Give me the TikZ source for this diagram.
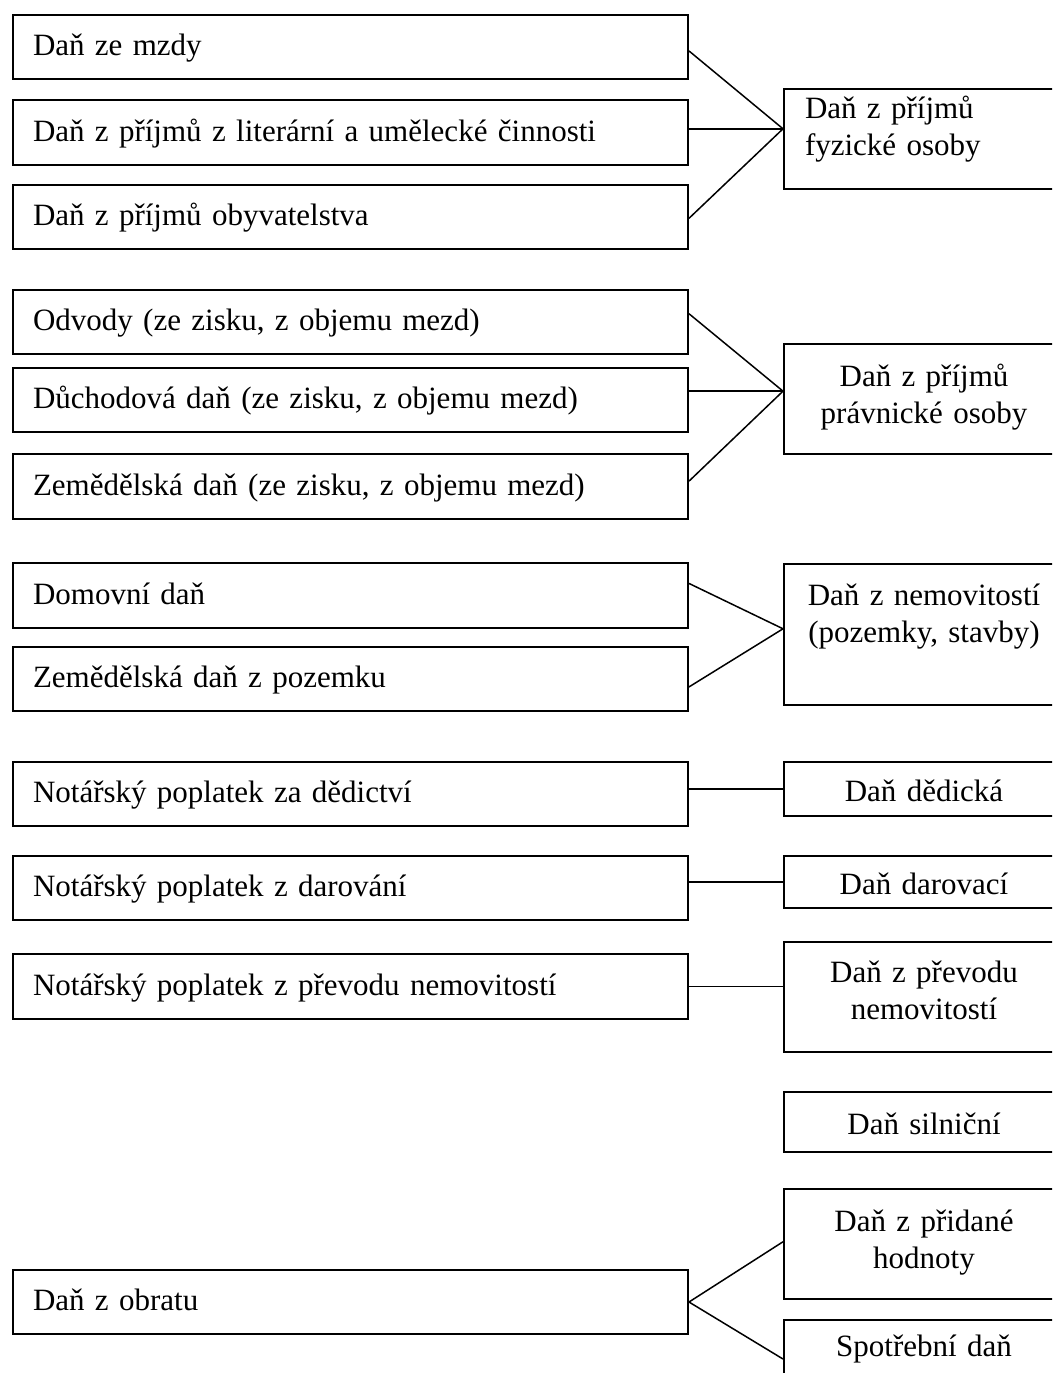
\documentclass[tikz,border=0pt]{standalone}
\usepackage{fontspec}
\setmainfont{Liberation Serif}
\usetikzlibrary{calc}
\tikzset{
  box/.style={draw, line width=2pt, anchor=north west, inner ysep=0pt, inner xsep=20pt},
  lbox/.style={box, minimum width=675pt, text width=635pt, align=left, text height=22pt, text depth=5pt},
  rbox/.style={box, minimum width=280pt, inner xsep=10pt, text width=260pt, align=center},
  rone/.style={text height=29pt, text depth=5pt},
  link/.style={line width=1.5pt},
}
\begin{document}
\begin{tikzpicture}[x=1pt,y=-1pt,font=\fontsize{31}{37}\selectfont]
\useasboundingbox (0,0) rectangle (1052,1373);
\clip (0,0) rectangle (1052,1373);

% left boxes
\node[lbox, minimum height=64pt] (A1) at (12,14) {Daň ze mzdy};
\node[lbox, minimum height=65pt] (A2) at (12,99) {Daň z příjmů z literární a umělecké činnosti};
\node[lbox, minimum height=64pt] (A3) at (12,184) {Daň z příjmů obyvatelstva};
\node[lbox, minimum height=64pt] (B1) at (12,289) {Odvody (ze zisku, z objemu mezd)};
\node[lbox, minimum height=64pt] (B2) at (12,367) {Důchodová daň (ze zisku, z objemu mezd)};
\node[lbox, minimum height=65pt] (B3) at (12,453) {Zemědělská daň (ze zisku, z objemu mezd)};
\node[lbox, minimum height=65pt] (C1) at (12,562) {Domovní daň};
\node[lbox, minimum height=64pt] (C2) at (12,646) {Zemědělská daň z pozemku};
\node[lbox, minimum height=64pt] (D1) at (12,761) {Notářský poplatek za dědictví};
\node[lbox, minimum height=64pt] (D2) at (12,855) {Notářský poplatek z darování};
\node[lbox, minimum height=65pt] (D3) at (12,953) {Notářský poplatek z převodu nemovitostí};
\node[lbox, minimum height=64pt] (E) at (12,1269) {Daň z obratu};

% right boxes
\node[rbox, align=left, inner xsep=21pt, text width=238pt, minimum height=100pt, text height=4pt, text depth=46pt] (R1) at (783,88) {Daň z příjmů\\fyzické osoby};
\node[rbox, minimum height=110pt, text height=10pt, text depth=36pt] (R2) at (783,343) {Daň z příjmů\\právnické osoby};
\node[rbox, minimum height=141pt, text height=5pt, text depth=64pt] (R3) at (783,563) {Daň z nemovitostí\\(pozemky, stavby)};
\node[rbox, rone, minimum height=54pt] (R4) at (783,761) {Daň dědická};
\node[rbox, rone, minimum height=52pt] (R5) at (783,855) {Daň darovací};
\node[rbox, minimum height=110pt, text height=10pt, text depth=40pt] (R6) at (783,941) {Daň z převodu\\nemovitostí};
\node[rbox, rone, minimum height=60pt] (R7) at (783,1091) {Daň silniční};
\node[rbox, minimum height=110pt, text height=10pt, text depth=36pt] (R8) at (783,1188) {Daň z přidané\\hodnoty};
\node[rbox, minimum height=100pt, text height=10pt, text depth=38pt] (R9) at (783,1319) {Spotřební daň};

% junctions
\coordinate (J1) at ($(R1.north west)!0.4!(R1.south west)$);
\coordinate (J2) at ($(R2.north west)!0.43!(R2.south west)$);
\coordinate (J3) at ($(R3.north west)!0.46!(R3.south west)$);
\coordinate (J8) at ($(R8.north west)!0.48!(R8.south west)$);
\coordinate (J9) at ([yshift=-40pt]R9.north west);

% connectors
\draw[link] ($(A1.north east)!0.56!(A1.south east)$) -- (J1);
\draw[link] (A2.east |- J1) -- (J1);
\draw[link] ($(A3.north east)!0.52!(A3.south east)$) -- (J1);
\draw[link] ($(B1.north east)!0.375!(B1.south east)$) -- (J2);
\draw[link] (B2.east |- J2) -- (J2);
\draw[link] ($(B3.north east)!0.42!(B3.south east)$) -- (J2);
\draw[link] ($(C1.north east)!0.32!(C1.south east)$) -- (J3);
\draw[link] ($(C2.north east)!0.62!(C2.south east)$) -- (J3);
\draw[link] (R4.west -| D1.east) -- (R4.west);
\draw[link] (R5.west -| D2.east) -- (R5.west);
\draw[link] (D3.east) -- (D3.east -| R6.west);
\draw[link] (E.east) -- (J8);
\draw[link] (E.east) -- (J9);
\end{tikzpicture}
\end{document}
